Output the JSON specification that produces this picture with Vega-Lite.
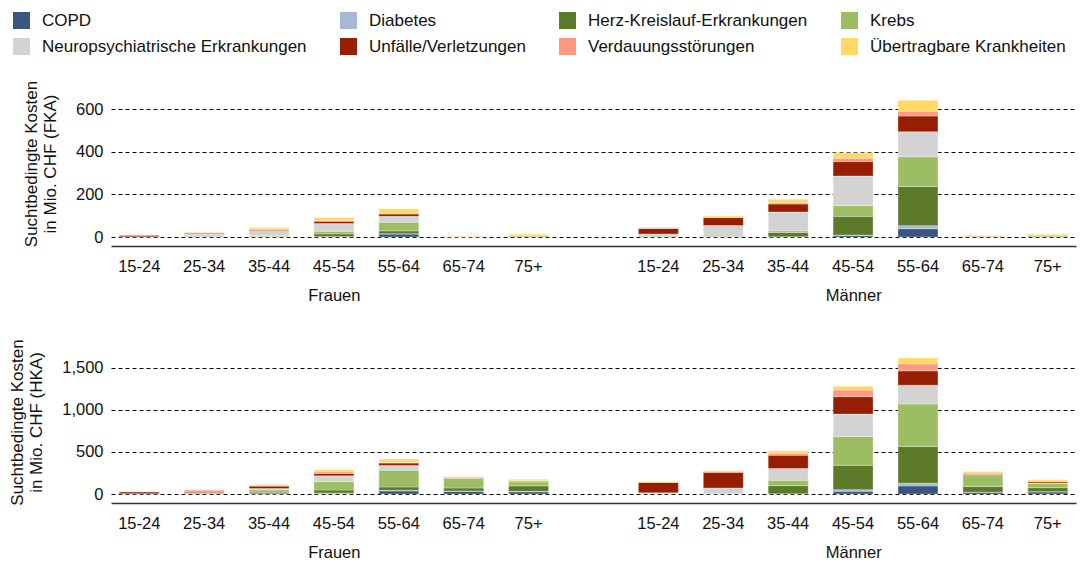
{
  "$schema": "https://vega.github.io/schema/vega-lite/v6.json",
  "padding": {"left": 8, "right": 2, "top": 12, "bottom": 0},
  "datasets": {
    "fka": [
      {"s":"Frauen","a":"15-24","c":"Neuropsychiatrische Erkrankungen","v":1},
      {"s":"Frauen","a":"15-24","c":"Unfälle/Verletzungen","v":6},
      {"s":"Frauen","a":"25-34","c":"Neuropsychiatrische Erkrankungen","v":14},
      {"s":"Frauen","a":"25-34","c":"Unfälle/Verletzungen","v":4},
      {"s":"Frauen","a":"25-34","c":"Verdauungsstörungen","v":3},
      {"s":"Frauen","a":"25-34","c":"Übertragbare Krankheiten","v":3},
      {"s":"Frauen","a":"35-44","c":"Herz-Kreislauf-Erkrankungen","v":2},
      {"s":"Frauen","a":"35-44","c":"Krebs","v":4},
      {"s":"Frauen","a":"35-44","c":"Neuropsychiatrische Erkrankungen","v":24},
      {"s":"Frauen","a":"35-44","c":"Unfälle/Verletzungen","v":5},
      {"s":"Frauen","a":"35-44","c":"Verdauungsstörungen","v":2},
      {"s":"Frauen","a":"35-44","c":"Übertragbare Krankheiten","v":7},
      {"s":"Frauen","a":"45-54","c":"COPD","v":2},
      {"s":"Frauen","a":"45-54","c":"Herz-Kreislauf-Erkrankungen","v":13},
      {"s":"Frauen","a":"45-54","c":"Krebs","v":12},
      {"s":"Frauen","a":"45-54","c":"Neuropsychiatrische Erkrankungen","v":36},
      {"s":"Frauen","a":"45-54","c":"Unfälle/Verletzungen","v":11},
      {"s":"Frauen","a":"45-54","c":"Verdauungsstörungen","v":3},
      {"s":"Frauen","a":"45-54","c":"Übertragbare Krankheiten","v":14},
      {"s":"Frauen","a":"55-64","c":"COPD","v":14},
      {"s":"Frauen","a":"55-64","c":"Diabetes","v":1},
      {"s":"Frauen","a":"55-64","c":"Herz-Kreislauf-Erkrankungen","v":14},
      {"s":"Frauen","a":"55-64","c":"Krebs","v":40},
      {"s":"Frauen","a":"55-64","c":"Neuropsychiatrische Erkrankungen","v":28},
      {"s":"Frauen","a":"55-64","c":"Unfälle/Verletzungen","v":11},
      {"s":"Frauen","a":"55-64","c":"Verdauungsstörungen","v":3},
      {"s":"Frauen","a":"55-64","c":"Übertragbare Krankheiten","v":22},
      {"s":"Frauen","a":"65-74","c":"Herz-Kreislauf-Erkrankungen","v":1},
      {"s":"Frauen","a":"65-74","c":"Krebs","v":1},
      {"s":"Frauen","a":"65-74","c":"Verdauungsstörungen","v":1},
      {"s":"Frauen","a":"65-74","c":"Übertragbare Krankheiten","v":3},
      {"s":"Frauen","a":"75+","c":"Herz-Kreislauf-Erkrankungen","v":3},
      {"s":"Frauen","a":"75+","c":"Krebs","v":5},
      {"s":"Frauen","a":"75+","c":"Neuropsychiatrische Erkrankungen","v":1},
      {"s":"Frauen","a":"75+","c":"Übertragbare Krankheiten","v":5},
      {"s":"Männer","a":"15-24","c":"Neuropsychiatrische Erkrankungen","v":14},
      {"s":"Männer","a":"15-24","c":"Unfälle/Verletzungen","v":26},
      {"s":"Männer","a":"15-24","c":"Verdauungsstörungen","v":2},
      {"s":"Männer","a":"15-24","c":"Übertragbare Krankheiten","v":5},
      {"s":"Männer","a":"25-34","c":"Neuropsychiatrische Erkrankungen","v":54},
      {"s":"Männer","a":"25-34","c":"Unfälle/Verletzungen","v":37},
      {"s":"Männer","a":"25-34","c":"Verdauungsstörungen","v":2},
      {"s":"Männer","a":"25-34","c":"Übertragbare Krankheiten","v":6},
      {"s":"Männer","a":"35-44","c":"COPD","v":1},
      {"s":"Männer","a":"35-44","c":"Herz-Kreislauf-Erkrankungen","v":20},
      {"s":"Männer","a":"35-44","c":"Krebs","v":8},
      {"s":"Männer","a":"35-44","c":"Neuropsychiatrische Erkrankungen","v":88},
      {"s":"Männer","a":"35-44","c":"Unfälle/Verletzungen","v":38},
      {"s":"Männer","a":"35-44","c":"Verdauungsstörungen","v":6},
      {"s":"Männer","a":"35-44","c":"Übertragbare Krankheiten","v":16},
      {"s":"Männer","a":"45-54","c":"COPD","v":8},
      {"s":"Männer","a":"45-54","c":"Diabetes","v":1},
      {"s":"Männer","a":"45-54","c":"Herz-Kreislauf-Erkrankungen","v":88},
      {"s":"Männer","a":"45-54","c":"Krebs","v":50},
      {"s":"Männer","a":"45-54","c":"Neuropsychiatrische Erkrankungen","v":139},
      {"s":"Männer","a":"45-54","c":"Unfälle/Verletzungen","v":68},
      {"s":"Männer","a":"45-54","c":"Verdauungsstörungen","v":16},
      {"s":"Männer","a":"45-54","c":"Übertragbare Krankheiten","v":25},
      {"s":"Männer","a":"55-64","c":"COPD","v":39},
      {"s":"Männer","a":"55-64","c":"Diabetes","v":14},
      {"s":"Männer","a":"55-64","c":"Herz-Kreislauf-Erkrankungen","v":184},
      {"s":"Männer","a":"55-64","c":"Krebs","v":140},
      {"s":"Männer","a":"55-64","c":"Neuropsychiatrische Erkrankungen","v":117},
      {"s":"Männer","a":"55-64","c":"Unfälle/Verletzungen","v":74},
      {"s":"Männer","a":"55-64","c":"Verdauungsstörungen","v":22},
      {"s":"Männer","a":"55-64","c":"Übertragbare Krankheiten","v":52},
      {"s":"Männer","a":"65-74","c":"Krebs","v":2},
      {"s":"Männer","a":"65-74","c":"Verdauungsstörungen","v":5},
      {"s":"Männer","a":"65-74","c":"Übertragbare Krankheiten","v":2},
      {"s":"Männer","a":"75+","c":"Herz-Kreislauf-Erkrankungen","v":3},
      {"s":"Männer","a":"75+","c":"Krebs","v":5},
      {"s":"Männer","a":"75+","c":"Verdauungsstörungen","v":2},
      {"s":"Männer","a":"75+","c":"Übertragbare Krankheiten","v":4}
    ],
    "hka": [
      {"s":"Frauen","a":"15-24","c":"Neuropsychiatrische Erkrankungen","v":3},
      {"s":"Frauen","a":"15-24","c":"Unfälle/Verletzungen","v":22},
      {"s":"Frauen","a":"15-24","c":"Verdauungsstörungen","v":3},
      {"s":"Frauen","a":"25-34","c":"Neuropsychiatrische Erkrankungen","v":8},
      {"s":"Frauen","a":"25-34","c":"Unfälle/Verletzungen","v":14},
      {"s":"Frauen","a":"25-34","c":"Verdauungsstörungen","v":25},
      {"s":"Frauen","a":"25-34","c":"Übertragbare Krankheiten","v":5},
      {"s":"Frauen","a":"35-44","c":"COPD","v":2},
      {"s":"Frauen","a":"35-44","c":"Herz-Kreislauf-Erkrankungen","v":20},
      {"s":"Frauen","a":"35-44","c":"Krebs","v":28},
      {"s":"Frauen","a":"35-44","c":"Neuropsychiatrische Erkrankungen","v":16},
      {"s":"Frauen","a":"35-44","c":"Unfälle/Verletzungen","v":28},
      {"s":"Frauen","a":"35-44","c":"Verdauungsstörungen","v":4},
      {"s":"Frauen","a":"35-44","c":"Übertragbare Krankheiten","v":14},
      {"s":"Frauen","a":"45-54","c":"COPD","v":10},
      {"s":"Frauen","a":"45-54","c":"Diabetes","v":2},
      {"s":"Frauen","a":"45-54","c":"Herz-Kreislauf-Erkrankungen","v":36},
      {"s":"Frauen","a":"45-54","c":"Krebs","v":100},
      {"s":"Frauen","a":"45-54","c":"Neuropsychiatrische Erkrankungen","v":68},
      {"s":"Frauen","a":"45-54","c":"Unfälle/Verletzungen","v":28},
      {"s":"Frauen","a":"45-54","c":"Verdauungsstörungen","v":20},
      {"s":"Frauen","a":"45-54","c":"Übertragbare Krankheiten","v":24},
      {"s":"Frauen","a":"55-64","c":"COPD","v":36},
      {"s":"Frauen","a":"55-64","c":"Diabetes","v":8},
      {"s":"Frauen","a":"55-64","c":"Herz-Kreislauf-Erkrankungen","v":40},
      {"s":"Frauen","a":"55-64","c":"Krebs","v":200},
      {"s":"Frauen","a":"55-64","c":"Neuropsychiatrische Erkrankungen","v":56},
      {"s":"Frauen","a":"55-64","c":"Unfälle/Verletzungen","v":28},
      {"s":"Frauen","a":"55-64","c":"Verdauungsstörungen","v":8},
      {"s":"Frauen","a":"55-64","c":"Übertragbare Krankheiten","v":40},
      {"s":"Frauen","a":"65-74","c":"COPD","v":32},
      {"s":"Frauen","a":"65-74","c":"Diabetes","v":4},
      {"s":"Frauen","a":"65-74","c":"Herz-Kreislauf-Erkrankungen","v":36},
      {"s":"Frauen","a":"65-74","c":"Krebs","v":112},
      {"s":"Frauen","a":"65-74","c":"Neuropsychiatrische Erkrankungen","v":4},
      {"s":"Frauen","a":"65-74","c":"Unfälle/Verletzungen","v":4},
      {"s":"Frauen","a":"65-74","c":"Verdauungsstörungen","v":10},
      {"s":"Frauen","a":"65-74","c":"Übertragbare Krankheiten","v":6},
      {"s":"Frauen","a":"75+","c":"COPD","v":26},
      {"s":"Frauen","a":"75+","c":"Diabetes","v":6},
      {"s":"Frauen","a":"75+","c":"Herz-Kreislauf-Erkrankungen","v":65},
      {"s":"Frauen","a":"75+","c":"Krebs","v":48},
      {"s":"Frauen","a":"75+","c":"Neuropsychiatrische Erkrankungen","v":4},
      {"s":"Frauen","a":"75+","c":"Unfälle/Verletzungen","v":6},
      {"s":"Frauen","a":"75+","c":"Verdauungsstörungen","v":4},
      {"s":"Frauen","a":"75+","c":"Übertragbare Krankheiten","v":16},
      {"s":"Männer","a":"15-24","c":"Neuropsychiatrische Erkrankungen","v":14},
      {"s":"Männer","a":"15-24","c":"Unfälle/Verletzungen","v":124},
      {"s":"Männer","a":"15-24","c":"Übertragbare Krankheiten","v":10},
      {"s":"Männer","a":"25-34","c":"Krebs","v":4},
      {"s":"Männer","a":"25-34","c":"Neuropsychiatrische Erkrankungen","v":68},
      {"s":"Männer","a":"25-34","c":"Unfälle/Verletzungen","v":187},
      {"s":"Männer","a":"25-34","c":"Verdauungsstörungen","v":4},
      {"s":"Männer","a":"25-34","c":"Übertragbare Krankheiten","v":16},
      {"s":"Männer","a":"35-44","c":"COPD","v":4},
      {"s":"Männer","a":"35-44","c":"Herz-Kreislauf-Erkrankungen","v":96},
      {"s":"Männer","a":"35-44","c":"Krebs","v":64},
      {"s":"Männer","a":"35-44","c":"Neuropsychiatrische Erkrankungen","v":139},
      {"s":"Männer","a":"35-44","c":"Unfälle/Verletzungen","v":159},
      {"s":"Männer","a":"35-44","c":"Verdauungsstörungen","v":24},
      {"s":"Männer","a":"35-44","c":"Übertragbare Krankheiten","v":28},
      {"s":"Männer","a":"45-54","c":"COPD","v":32},
      {"s":"Männer","a":"45-54","c":"Diabetes","v":20},
      {"s":"Männer","a":"45-54","c":"Herz-Kreislauf-Erkrankungen","v":290},
      {"s":"Männer","a":"45-54","c":"Krebs","v":342},
      {"s":"Männer","a":"45-54","c":"Neuropsychiatrische Erkrankungen","v":267},
      {"s":"Männer","a":"45-54","c":"Unfälle/Verletzungen","v":207},
      {"s":"Männer","a":"45-54","c":"Verdauungsstörungen","v":80},
      {"s":"Männer","a":"45-54","c":"Übertragbare Krankheiten","v":44},
      {"s":"Männer","a":"55-64","c":"COPD","v":96},
      {"s":"Männer","a":"55-64","c":"Diabetes","v":32},
      {"s":"Männer","a":"55-64","c":"Herz-Kreislauf-Erkrankungen","v":438},
      {"s":"Männer","a":"55-64","c":"Krebs","v":506},
      {"s":"Männer","a":"55-64","c":"Neuropsychiatrische Erkrankungen","v":223},
      {"s":"Männer","a":"55-64","c":"Unfälle/Verletzungen","v":171},
      {"s":"Männer","a":"55-64","c":"Verdauungsstörungen","v":84},
      {"s":"Männer","a":"55-64","c":"Übertragbare Krankheiten","v":68},
      {"s":"Männer","a":"65-74","c":"COPD","v":20},
      {"s":"Männer","a":"65-74","c":"Diabetes","v":2},
      {"s":"Männer","a":"65-74","c":"Herz-Kreislauf-Erkrankungen","v":68},
      {"s":"Männer","a":"65-74","c":"Krebs","v":139},
      {"s":"Männer","a":"65-74","c":"Neuropsychiatrische Erkrankungen","v":4},
      {"s":"Männer","a":"65-74","c":"Unfälle/Verletzungen","v":4},
      {"s":"Männer","a":"65-74","c":"Verdauungsstörungen","v":12},
      {"s":"Männer","a":"65-74","c":"Übertragbare Krankheiten","v":20},
      {"s":"Männer","a":"75+","c":"COPD","v":24},
      {"s":"Männer","a":"75+","c":"Diabetes","v":4},
      {"s":"Männer","a":"75+","c":"Herz-Kreislauf-Erkrankungen","v":48},
      {"s":"Männer","a":"75+","c":"Krebs","v":50},
      {"s":"Männer","a":"75+","c":"Neuropsychiatrische Erkrankungen","v":4},
      {"s":"Männer","a":"75+","c":"Unfälle/Verletzungen","v":16},
      {"s":"Männer","a":"75+","c":"Verdauungsstörungen","v":4},
      {"s":"Männer","a":"75+","c":"Übertragbare Krankheiten","v":20}
    ]
  },
  "spacing": 34,
  "vconcat": [
    {
      "data": {"name": "fka"},
      "transform": [{"calculate": "datum.s + '|' + datum.a", "as": "k"}],
      "width": 965,
      "height": 147,
      "layer": [
        {
          "mark": {"type": "bar", "stroke": "#ffffff", "strokeWidth": 0.6, "strokeOpacity": 0.5},
          "encoding": {
            "x": {"field": "k", "type": "nominal",
              "scale": {"domain": ["Frauen|15-24","Frauen|25-34","Frauen|35-44","Frauen|45-54","Frauen|55-64","Frauen|65-74","Frauen|75+","gap","Männer|15-24","Männer|25-34","Männer|35-44","Männer|45-54","Männer|55-64","Männer|65-74","Männer|75+"], "paddingInner": 0.384, "paddingOuter": 0.127},
              "axis": {"title": null, "labelExpr": "indexof(datum.label, '|') > 0 ? split(datum.label, '|')[1] : ''", "labelAngle": 0, "offset": 9, "labelPadding": 12, "domainColor": "#333333", "domainWidth": 1.5, "ticks": false, "grid": false}},
            "y": {"field": "v", "type": "quantitative", "stack": "zero",
              "scale": {"domain": [0, 690], "nice": false},
              "axis": {"title": ["Suchtbedingte Kosten", "in Mio. CHF (FKA)"], "values": [0, 200, 400, 600], "format": ",d", "domain": false, "ticks": false, "grid": true, "gridColor": "#000000", "gridDash": [4, 3], "gridWidth": 1, "labelPadding": 8, "titlePadding": 16}},
            "order": {"field": "c", "sort": "ascending"},
            "color": {"field": "c", "type": "nominal",
              "scale": {"domain": ["COPD","Diabetes","Herz-Kreislauf-Erkrankungen","Krebs","Neuropsychiatrische Erkrankungen","Unfälle/Verletzungen","Verdauungsstörungen","Übertragbare Krankheiten"],
                        "range": ["#3A557F","#A6B8D6","#5C7A29","#9BBE63","#D3D3D3","#971E00","#FF9980","#FFD966"]},
              "legend": {"title": null, "orient": "none", "legendX": -98, "legendY": -78, "columns": 4, "direction": "horizontal"}}
          }
        },
        {
          "mark": {"type": "point", "opacity": 0},
          "encoding": {
            "x": {"field": "s", "type": "nominal",
              "scale": {"type": "point", "domain": ["Frauen", "Männer"], "padding": 0.429},
              "axis": {"title": null, "orient": "bottom", "labelAngle": 0, "offset": 9, "labelPadding": 41, "domain": false, "ticks": false, "grid": false}}
          }
        }
      ],
      "resolve": {"scale": {"x": "independent"}, "axis": {"x": "independent"}}
    },
    {
      "data": {"name": "hka"},
      "transform": [{"calculate": "datum.s + '|' + datum.a", "as": "k"}],
      "width": 965,
      "height": 144,
      "layer": [
        {
          "mark": {"type": "bar", "stroke": "#ffffff", "strokeWidth": 0.6, "strokeOpacity": 0.5},
          "encoding": {
            "x": {"field": "k", "type": "nominal",
              "scale": {"domain": ["Frauen|15-24","Frauen|25-34","Frauen|35-44","Frauen|45-54","Frauen|55-64","Frauen|65-74","Frauen|75+","gap","Männer|15-24","Männer|25-34","Männer|35-44","Männer|45-54","Männer|55-64","Männer|65-74","Männer|75+"], "paddingInner": 0.384, "paddingOuter": 0.127},
              "axis": {"title": null, "labelExpr": "indexof(datum.label, '|') > 0 ? split(datum.label, '|')[1] : ''", "labelAngle": 0, "offset": 9, "labelPadding": 12, "domainColor": "#333333", "domainWidth": 1.5, "ticks": false, "grid": false}},
            "y": {"field": "v", "type": "quantitative", "stack": "zero",
              "scale": {"domain": [0, 1714], "nice": false},
              "axis": {"title": ["Suchtbedingte Kosten", "in Mio. CHF (HKA)"], "values": [0, 500, 1000, 1500], "format": ",d", "domain": false, "ticks": false, "grid": true, "gridColor": "#000000", "gridDash": [4, 3], "gridWidth": 1, "labelPadding": 8, "titlePadding": 16}},
            "order": {"field": "c", "sort": "ascending"},
            "color": {"field": "c", "type": "nominal",
              "scale": {"domain": ["COPD","Diabetes","Herz-Kreislauf-Erkrankungen","Krebs","Neuropsychiatrische Erkrankungen","Unfälle/Verletzungen","Verdauungsstörungen","Übertragbare Krankheiten"],
                        "range": ["#3A557F","#A6B8D6","#5C7A29","#9BBE63","#D3D3D3","#971E00","#FF9980","#FFD966"]},
              "legend": {"title": null, "orient": "none", "legendX": -98, "legendY": -78, "columns": 4, "direction": "horizontal"}}
          }
        },
        {
          "mark": {"type": "point", "opacity": 0},
          "encoding": {
            "x": {"field": "s", "type": "nominal",
              "scale": {"type": "point", "domain": ["Frauen", "Männer"], "padding": 0.429},
              "axis": {"title": null, "orient": "bottom", "labelAngle": 0, "offset": 9, "labelPadding": 41, "domain": false, "ticks": false, "grid": false}}
          }
        }
      ],
      "resolve": {"scale": {"x": "independent"}, "axis": {"x": "independent"}}
    }
  ],
  "config": {
    "font": "Liberation Sans",
    "view": {"stroke": null},
    "axis": {"labelFont": "Liberation Sans", "labelFontSize": 16.5, "labelColor": "#111111", "titleFont": "Liberation Sans", "titleFontSize": 17, "titleFontWeight": "normal", "titleColor": "#111111", "titleLineHeight": 19},
    "legend": {"labelFont": "Liberation Sans", "labelFontSize": 17, "labelColor": "#111111", "symbolType": "square", "symbolSize": 289, "symbolStrokeWidth": 0, "symbolOpacity": 1, "labelOffset": 12, "rowPadding": 8, "columnPadding": 33, "labelLimit": 400}
  }
}
